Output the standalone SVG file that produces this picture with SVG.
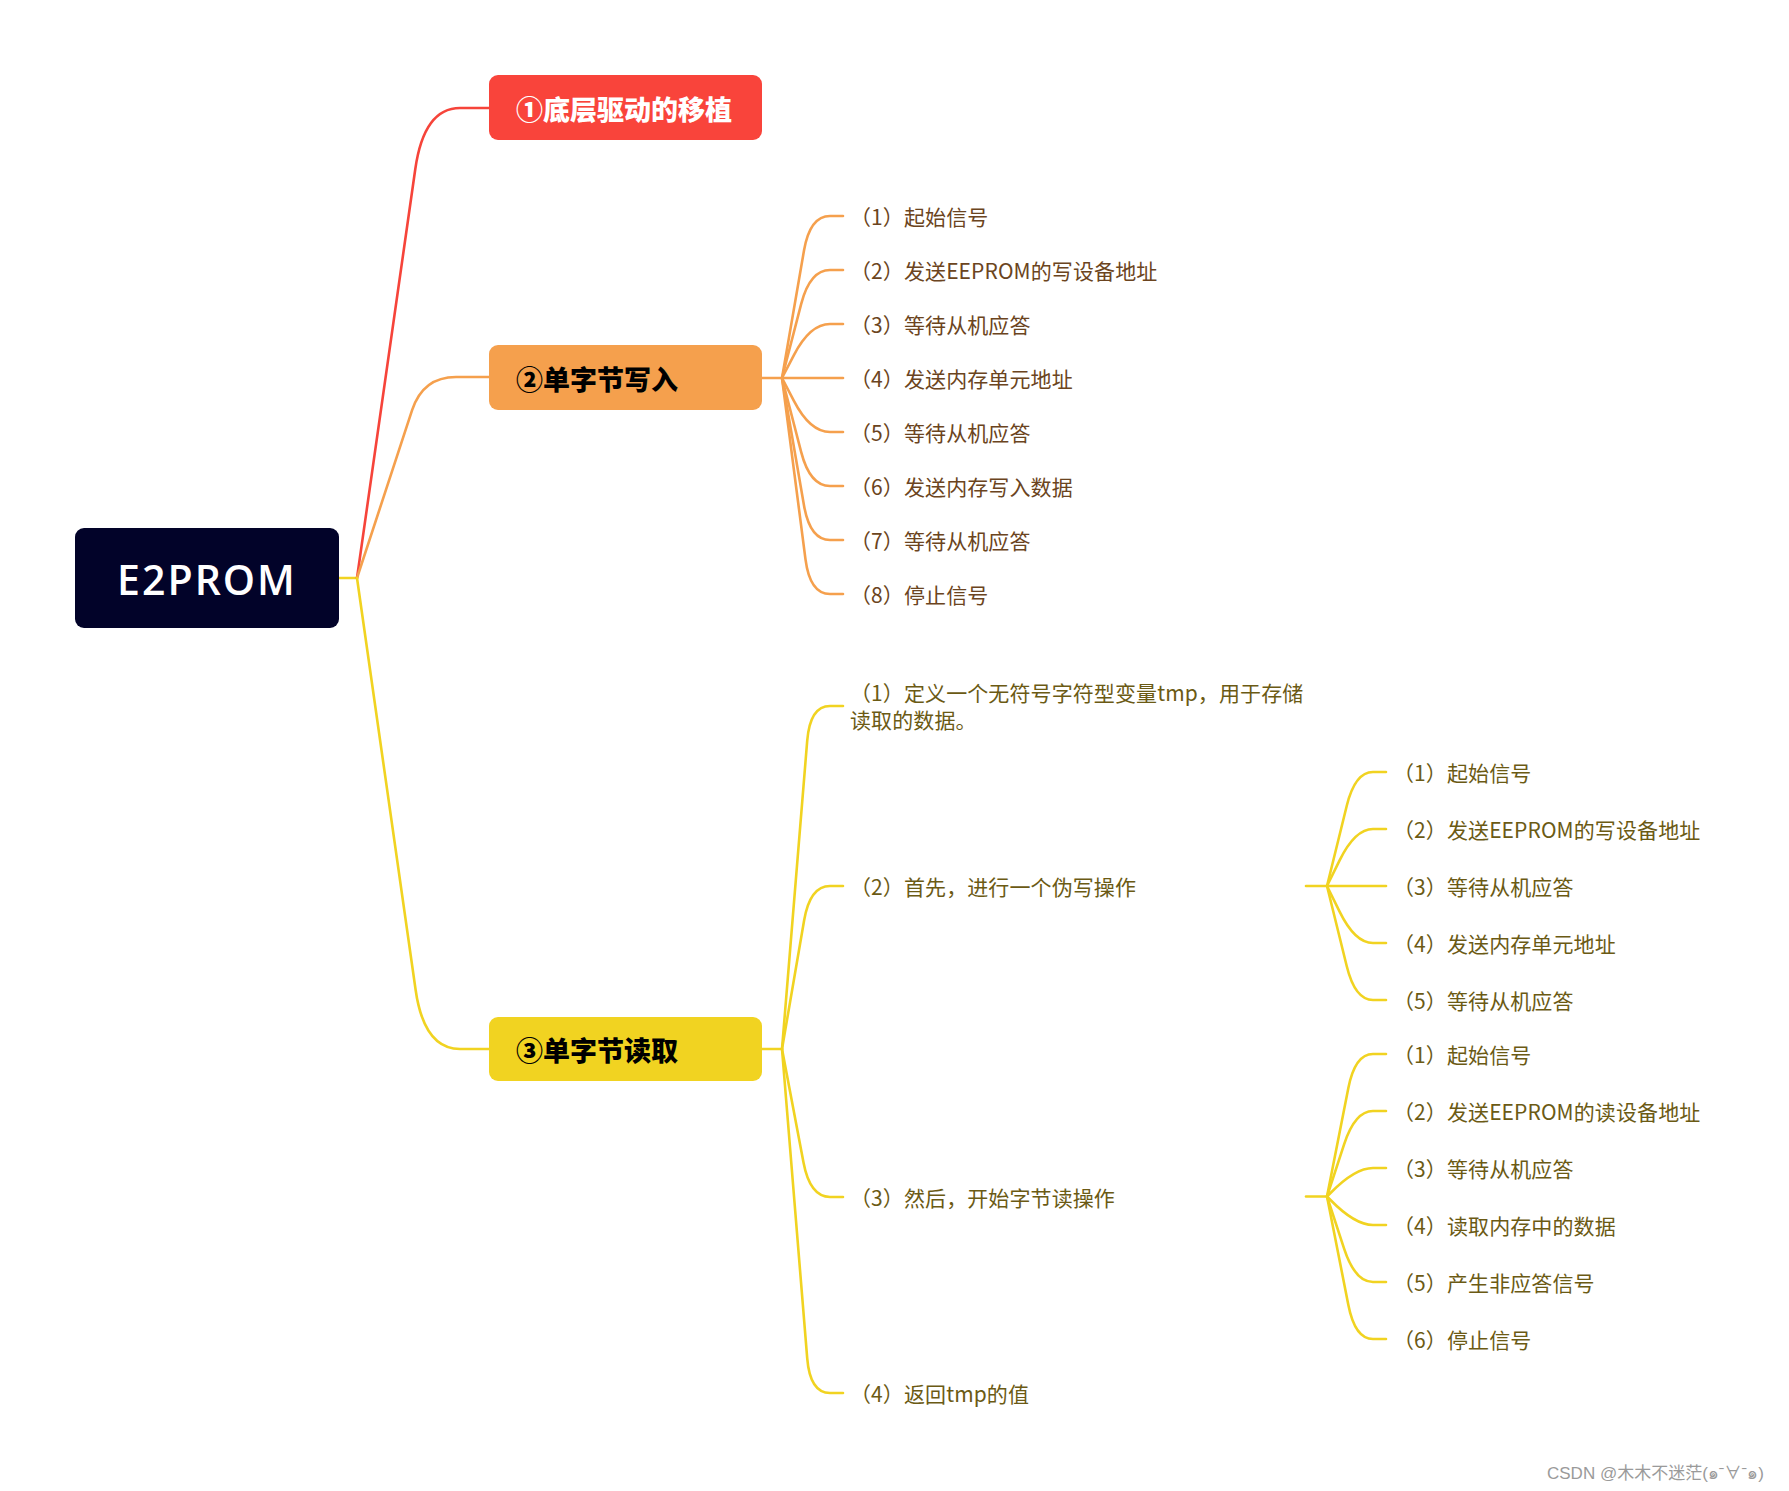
<svg xmlns="http://www.w3.org/2000/svg" width="1789" height="1491" viewBox="0 0 1789 1491">
<style>
  .cj { font-family: "Noto Sans CJK SC", "Noto Sans", sans-serif; }
  .lbl { font-size: 21px; dominant-baseline: central; letter-spacing: 0.1px; }
  .br { fill: #6B4420; }
  .ol { fill: #6B5A14; }
  .nt { font-size: 27px; font-weight: 900; dominant-baseline: central; }
  .ln { fill: none; stroke-width: 2.6; stroke-linecap: round; }
  .red { stroke: #F6443A; }
  .org { stroke: #F5A04D; }
  .yel { stroke: #F1D321; }
</style>
<rect width="1789" height="1491" fill="#ffffff"/>

<g id="connectors">
  <!-- root to main branches -->
  <path class="ln yel" d="M339,578 L357,578"/>
  <path class="ln red" d="M357,578 L415.3,169 Q424,108 460,108 L489,108"/>
  <path class="ln org" d="M357,578 L412.1,410.2 Q423,377 456,377 L489,377"/>
  <path class="ln yel" d="M357,578 L415.6,989.7 Q424,1049 460,1049 L489,1049"/>

  <!-- node 2 children -->
  <path class="ln org" d="M762,378 L782,378"/>
  <path class="ln org" d="M782,378 L804,250.5 Q810,216 830,216 L843,216"/>
  <path class="ln org" d="M782,378 L801.2,303.9 Q810,270 830,270 L843,270"/>
  <path class="ln org" d="M782,378 L793.9,355.1 Q810,324 830,324 L843,324"/>
  <path class="ln org" d="M782,378 L843,378"/>
  <path class="ln org" d="M782,378 L793.9,400.9 Q810,432 830,432 L843,432"/>
  <path class="ln org" d="M782,378 L801.2,452.1 Q810,486 830,486 L843,486"/>
  <path class="ln org" d="M782,378 L804,505.5 Q810,540 830,540 L843,540"/>
  <path class="ln org" d="M782,378 L805.5,559.3 Q810,594 830,594 L843,594"/>

  <!-- node 3 children -->
  <path class="ln yel" d="M762,1049 L782,1049"/>
  <path class="ln yel" d="M782,1049 L807.2,740.9 Q810,706 830,706 L843,706"/>
  <path class="ln yel" d="M782,1049 L804.1,920.5 Q810,886 830,886 L843,886"/>
  <path class="ln yel" d="M782,1049 L803.5,1162.6 Q810,1197 830,1197 L843,1197"/>
  <path class="ln yel" d="M782,1049 L807.2,1358.1 Q810,1393 830,1393 L843,1393"/>

  <!-- sub-fan 1 -->
  <path class="ln yel" d="M1306,886 L1327,886"/>
  <path class="ln yel" d="M1327,886 L1346.7,806 Q1355,772 1373,772 L1386,772"/>
  <path class="ln yel" d="M1327,886 L1339.6,860.4 Q1355,829 1373,829 L1386,829"/>
  <path class="ln yel" d="M1327,886 L1386,886"/>
  <path class="ln yel" d="M1327,886 L1339.6,911.6 Q1355,943 1373,943 L1386,943"/>
  <path class="ln yel" d="M1327,886 L1346.7,966 Q1355,1000 1373,1000 L1386,1000"/>

  <!-- sub-fan 2 -->
  <path class="ln yel" d="M1306,1196.5 L1327,1196.5"/>
  <path class="ln yel" d="M1327,1196.5 L1348.3,1088.3 Q1355,1054 1373,1054 L1386,1054"/>
  <path class="ln yel" d="M1327,1196.5 L1344.1,1144.3 Q1355,1111 1373,1111 L1386,1111"/>
  <path class="ln yel" d="M1327,1196.5 L1330.5,1193 Q1355,1168 1373,1168 L1386,1168"/>
  <path class="ln yel" d="M1327,1196.5 L1330.5,1200 Q1355,1225 1373,1225 L1386,1225"/>
  <path class="ln yel" d="M1327,1196.5 L1344.1,1248.7 Q1355,1282 1373,1282 L1386,1282"/>
  <path class="ln yel" d="M1327,1196.5 L1348.3,1304.7 Q1355,1339 1373,1339 L1386,1339"/>
</g>

<g id="root">
  <rect x="75" y="528" width="264" height="100" rx="9" fill="#020329"/>
  <text x="207" y="579" text-anchor="middle" dominant-baseline="central" font-family="'Open Sans', 'Liberation Sans', sans-serif" font-weight="600" font-size="41" letter-spacing="2" fill="#ffffff">E2PROM</text>
</g>

<g id="node1">
  <rect x="489" y="75" width="273" height="65" rx="9" fill="#F9443B"/>
  <text class="cj nt" x="516" y="108" fill="#ffffff">①底层驱动的移植</text>
</g>
<g id="node2">
  <rect x="489" y="345" width="273" height="65" rx="9" fill="#F5A04D"/>
  <text class="cj nt" x="516" y="378" fill="#000000">②单字节写入</text>
</g>
<g id="node3">
  <rect x="489" y="1017" width="273" height="64" rx="9" fill="#F1D321"/>
  <text class="cj nt" x="516" y="1049" fill="#000000">③单字节读取</text>
</g>

<g id="write-steps">
  <text class="cj lbl br" x="850" y="216">（1）起始信号</text>
  <text class="cj lbl br" x="850" y="270">（2）发送EEPROM的写设备地址</text>
  <text class="cj lbl br" x="850" y="324">（3）等待从机应答</text>
  <text class="cj lbl br" x="850" y="378">（4）发送内存单元地址</text>
  <text class="cj lbl br" x="850" y="432">（5）等待从机应答</text>
  <text class="cj lbl br" x="850" y="486">（6）发送内存写入数据</text>
  <text class="cj lbl br" x="850" y="540">（7）等待从机应答</text>
  <text class="cj lbl br" x="850" y="594">（8）停止信号</text>
</g>

<g id="read-steps">
  <text class="cj lbl ol" x="850" y="692">（1）定义一个无符号字符型变量tmp，用于存储</text>
  <text class="cj lbl ol" x="850" y="719">读取的数据。</text>
  <text class="cj lbl ol" x="850" y="886">（2）首先，进行一个伪写操作</text>
  <text class="cj lbl ol" x="850" y="1197">（3）然后，开始字节读操作</text>
  <text class="cj lbl ol" x="850" y="1393">（4）返回tmp的值</text>
</g>

<g id="dummy-write-steps">
  <text class="cj lbl ol" x="1393" y="772">（1）起始信号</text>
  <text class="cj lbl ol" x="1393" y="829">（2）发送EEPROM的写设备地址</text>
  <text class="cj lbl ol" x="1393" y="886">（3）等待从机应答</text>
  <text class="cj lbl ol" x="1393" y="943">（4）发送内存单元地址</text>
  <text class="cj lbl ol" x="1393" y="1000">（5）等待从机应答</text>
</g>

<g id="byte-read-steps">
  <text class="cj lbl ol" x="1393" y="1054">（1）起始信号</text>
  <text class="cj lbl ol" x="1393" y="1111">（2）发送EEPROM的读设备地址</text>
  <text class="cj lbl ol" x="1393" y="1168">（3）等待从机应答</text>
  <text class="cj lbl ol" x="1393" y="1225">（4）读取内存中的数据</text>
  <text class="cj lbl ol" x="1393" y="1282">（5）产生非应答信号</text>
  <text class="cj lbl ol" x="1393" y="1339">（6）停止信号</text>
</g>

<text x="1547" y="1473" dominant-baseline="central" font-family="'Liberation Sans', 'Noto Sans CJK SC', sans-serif" font-size="17" fill="#9a9a9a">CSDN @木木不迷茫(๑ˉ∀ˉ๑)</text>
</svg>
